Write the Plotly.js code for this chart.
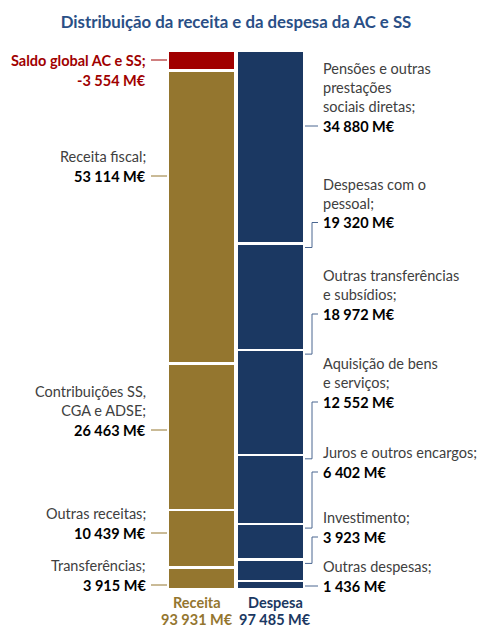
<!DOCTYPE html>
<html><head><meta charset="utf-8">
<script src="https://cdn.plot.ly/plotly-3.0.1.min.js"></script>
<style>html,body{margin:0;padding:0;background:#fff}#c{width:478px;height:628px}</style>
</head><body><div id="c"></div>
<script>
// ---- data ----
const columns = ['Receita', 'Despesa'];
const receitaLabels = ['Transferências;', 'Outras receitas;', 'Contribuições SS,<br>CGA e ADSE;', 'Receita fiscal;'];
const receitaValues = [3915, 10439, 26463, 53114];
const saldoLabel = 'Saldo global AC e SS;';
const saldoValue = -3554;
const despesaLabels = ['Outras despesas;', 'Investimento;', 'Juros e outros encargos;', 'Aquisição de bens<br>e serviços;', 'Outras transferências<br>e subsídios;', 'Despesas com o<br>pessoal;', 'Pensões e outras<br>prestações<br>sociais diretas;'];
const despesaValues = [1436, 3923, 6402, 12552, 18972, 19320, 34880];

// ---- layout / style ----
const W = 478, H = 628, M = {l: 167, r: 173, t: 51, b: 39};
const plotW = W - M.l - M.r, plotH = H - M.t - M.b;
// label anchor rows (pixel y of the value line; for saldo, of the name line)
const receitaLabelPx = [585, 533, 430, 176];
const saldoLabelPx = 60;
const despesaLabelPx = [586, 537, 472, 402, 314, 222.5, 126];
const totalNamePx = 602, totalValuePx = 619.5;
const totalCenterPx = [197, 275];
const GOLD = '#94762F', RED = '#A00000', NAVY = '#1B3862', LEAD = '#4A6690';
const TXT = '#404040', FONT = 'Lato, "Open Sans", sans-serif', FS = 14.5;

const sum = a => a.reduce((s, v) => s + v, 0);
const fmt = n => (n < 0 ? '-' : '') + String(Math.abs(n)).replace(/\B(?=(\d{3})+(?!\d))/g, ' ') + ' M€';
const total = sum(despesaValues);
const k = plotH / total;            // px per unit
const px2v = py => (H - M.b - py) / k;
const px2p = px => (px - M.l) / plotW;
const px2py = py => (H - M.b - py) / plotH;

const traces = [];
receitaValues.forEach(v => traces.push({type: 'bar', x: [columns[0]], y: [v], marker: {color: GOLD, line: {color: '#fff', width: 2.5}}, hoverinfo: 'skip'}));
traces.push({type: 'bar', x: [columns[0]], y: [Math.abs(saldoValue)], marker: {color: RED, line: {color: '#fff', width: 2.5}}, hoverinfo: 'skip'});
despesaValues.forEach(v => traces.push({type: 'bar', x: [columns[1]], y: [v], marker: {color: NAVY, line: {color: '#fff', width: 2.5}}, hoverinfo: 'skip'}));

const ann = [], shapes = [];
const line = (x0, y0, x1, y1, c) => shapes.push({type: 'line', xref: 'paper', yref: 'y', x0: px2p(x0), x1: px2p(x1), y0: px2v(y0), y1: px2v(y1), line: {color: c, width: 1}});

// left (receita) labels
receitaValues.forEach((v, i) => {
  const y = px2v(receitaLabelPx[i]);
  ann.push({xref: 'paper', yref: 'y', x: px2p(148), y: y, xanchor: 'right', yanchor: 'middle', align: 'right', showarrow: false, text: '<b>' + fmt(v) + '</b>', font: {family: FONT, size: FS, color: '#000'}});
  ann.push({xref: 'paper', yref: 'y', x: px2p(148), y: y, xanchor: 'right', yanchor: 'bottom', yshift: 9, align: 'right', showarrow: false, text: receitaLabels[i], font: {family: FONT, size: FS, color: TXT}});
  line(151, receitaLabelPx[i], M.l, receitaLabelPx[i], GOLD);
});
// saldo
{
  const y = px2v(saldoLabelPx);
  ann.push({xref: 'paper', yref: 'y', x: px2p(148), y: y, xanchor: 'right', yanchor: 'middle', align: 'right', showarrow: false, text: '<b>' + saldoLabel + '</b>', font: {family: FONT, size: FS, color: RED}});
  ann.push({xref: 'paper', yref: 'y', x: px2p(148), y: y, xanchor: 'right', yanchor: 'top', yshift: -9.5, align: 'right', showarrow: false, text: '<b>' + fmt(saldoValue) + '</b>', font: {family: FONT, size: FS, color: RED}});
  line(151, saldoLabelPx, M.l, saldoLabelPx, RED);
}
// right (despesa) labels
let cum = 0;
despesaValues.forEach((v, i) => {
  const yPx = despesaLabelPx[i];
  const y = px2v(yPx);
  ann.push({xref: 'paper', yref: 'y', x: px2p(321), y: y, xanchor: 'left', yanchor: 'middle', align: 'left', showarrow: false, text: '<b>' + fmt(v) + '</b>', font: {family: FONT, size: FS, color: '#000'}});
  ann.push({xref: 'paper', yref: 'y', x: px2p(321), y: y, xanchor: 'left', yanchor: 'bottom', yshift: 9, align: 'left', showarrow: false, text: despesaLabels[i], font: {family: FONT, size: FS, color: TXT}});
  const topPx = H - M.b - (cum + v) * k, botPx = H - M.b - cum * k;
  if (yPx >= topPx && yPx <= botPx) {
    line(M.l + plotW, yPx, 318, yPx, LEAD);
  } else {
    const att = topPx + 4;
    line(318, yPx, 312, yPx, LEAD);
    line(312, yPx, 312, att, LEAD);
    line(312, att, M.l + plotW, att, LEAD);
  }
  cum += v;
});
// totals under columns
const totals = [sum(receitaValues), total];
const totColors = [GOLD, NAVY];
columns.forEach((c, i) => {
  ann.push({xref: 'paper', yref: 'paper', x: px2p(totalCenterPx[i]), y: px2py(totalNamePx), xanchor: 'center', yanchor: 'middle', showarrow: false, borderpad: 0, text: '<b>' + c + '</b>', font: {family: FONT, size: FS, color: totColors[i]}});
  ann.push({xref: 'paper', yref: 'paper', x: px2p(totalCenterPx[i]), y: px2py(totalValuePx), xanchor: 'center', yanchor: 'middle', showarrow: false, borderpad: 0, text: '<b>' + fmt(totals[i]) + '</b>', font: {family: FONT, size: FS, color: totColors[i]}});
});

const layout = {
  width: W, height: H, margin: M, showlegend: false, barmode: 'stack', bargap: 0.02,
  paper_bgcolor: '#fff', plot_bgcolor: '#fff',
  title: {text: '<b>Distribuição da receita e da despesa da AC e SS</b>', x: 236 / W, xanchor: 'center', y: 1 - 22 / H, yanchor: 'middle', xref: 'container', yref: 'container', font: {family: FONT, size: 16.8, color: '#2A4F86'}},
  xaxis: {type: 'category', range: [-0.5, 1.5], showticklabels: false, showgrid: false, zeroline: false, showline: false, fixedrange: true},
  yaxis: {range: [0, total], showticklabels: false, showgrid: false, zeroline: false, showline: false, fixedrange: true},
  annotations: ann, shapes: shapes
};
Plotly.newPlot('c', traces, layout, {displayModeBar: false, staticPlot: true});
</script></body></html>
